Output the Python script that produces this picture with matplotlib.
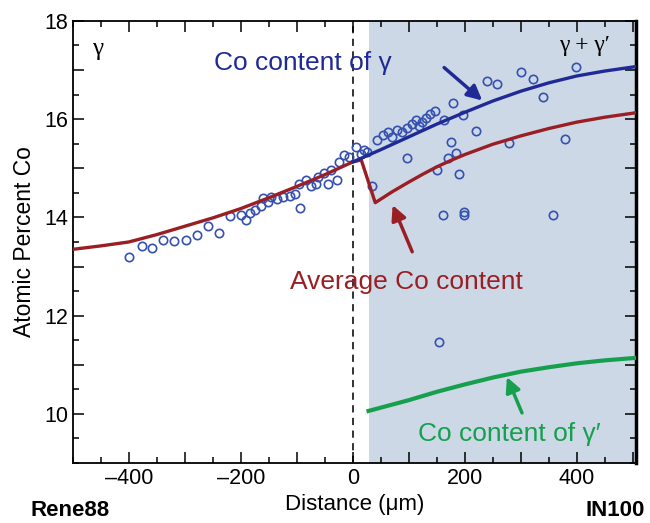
import matplotlib
matplotlib.use("Agg")
import matplotlib.pyplot as plt
import numpy as np
from matplotlib.ticker import MultipleLocator

plt.rcParams['font.family'] = ['Liberation Sans', 'DejaVu Sans']

# ---- data ----
scatter_x = [-399, -377, -358, -339, -319, -298, -279, -259, -239, -220, -199, -190, -184,
             -175, -164, -160, -151, -146, -135, -125, -113, -103, -94, -97, -83, -75, -66,
             -63, -51, -45, -39, -28, -24, -15, -7, 5, 14, 26, 35, 44, 53, 62, 70, 79, 88,
             97, 106, 112, 118, 124, 131, 138, 146, 96, 151, 169, 185, 175, 190, 179, 197,
             220, 240, 257, 163, 300, 321, 339, 399, 279, 378, 161, 199, 199, 358, 153, 20]
scatter_y = [13.20, 13.41, 13.38, 13.53, 13.51, 13.53, 13.64, 13.82, 13.69, 14.02, 14.05, 13.95, 14.09,
             14.15, 14.23, 14.39, 14.32, 14.42, 14.37, 14.41, 14.44, 14.48, 14.19, 14.68, 14.76, 14.64, 14.68,
             14.83, 14.90, 14.69, 14.96, 14.76, 15.13, 15.27, 15.23, 15.44, 15.30, 15.33, 14.63, 15.57, 15.67, 15.74, 15.64, 15.77, 15.74,
             15.81, 15.91, 15.98, 15.87, 15.94, 16.03, 16.11, 16.16, 15.20, 14.96, 15.20, 15.31, 15.53, 14.88, 16.32, 16.08,
             15.75, 16.77, 16.72, 15.98, 16.95, 16.81, 16.45, 17.07, 15.51, 15.59, 14.05, 14.11, 14.05, 14.05, 11.46, 15.37]

avg_x = [-500, -450, -400, -350, -300, -250, -200, -150, -100, -50, 0, 15, 40,
         70, 100, 125, 150, 175, 200, 250, 300, 350, 400, 450, 505]
avg_y = [13.35, 13.42, 13.50, 13.65, 13.82, 13.99, 14.18, 14.40, 14.63, 14.87, 15.13, 15.17, 14.30,
         14.52, 14.72, 14.88, 15.03, 15.16, 15.28, 15.49, 15.66, 15.81, 15.94, 16.04, 16.13]

gam_x = [0, 50, 100, 150, 200, 250, 300, 350, 400, 450, 505]
gam_y = [15.13, 15.38, 15.64, 15.90, 16.14, 16.37, 16.57, 16.74, 16.88, 16.98, 17.07]

gp_x = [28, 100, 150, 200, 250, 300, 350, 400, 450, 505]
gp_y = [10.06, 10.28, 10.45, 10.60, 10.74, 10.86, 10.95, 11.03, 11.09, 11.14]

shade_start = 28
xlim = (-500, 505)
ylim = (9, 18)

RED = '#9a1f24'
BLUE = '#1f2a96'
GREEN = '#16a04e'
SHADE = '#cdd8e6'
MK = '#3550b0'

fig = plt.figure(figsize=(6.5, 5.23), dpi=100)
ax = fig.add_axes([0.112, 0.1147, 0.866, 0.8453])

ax.axvspan(shade_start, xlim[1], color=SHADE, zorder=0, lw=0)
ax.axvline(0, color='#222222', ls=(0, (4, 3)), lw=1.3, zorder=1)

ax.plot(scatter_x, scatter_y, 'o', ms=6, mfc='none', mec=MK, mew=1.2, zorder=2)
ax.plot(avg_x, avg_y, color=RED, lw=2.4, zorder=3, solid_joinstyle='round')
ax.plot(gam_x, gam_y, color=BLUE, lw=2.4, zorder=3, solid_joinstyle='round')
ax.plot(gp_x, gp_y, color=GREEN, lw=3, zorder=3, solid_joinstyle='round')

ax.set_xlim(*xlim)
ax.set_ylim(*ylim)
ax.xaxis.set_minor_locator(MultipleLocator(50))
ax.yaxis.set_minor_locator(MultipleLocator(0.5))
ax.set_xticks([-400, -300, -200, -100, 0, 100, 200, 300, 400, 500])
ax.set_xticklabels(['\u2013400', '', '\u2013200', '', '0', '', '200', '', '400', ''])
ax.set_yticks([10, 11, 12, 13, 14, 15, 16, 17, 18])
ax.set_yticklabels(['10', '', '12', '', '14', '', '16', '', '18'])
ax.tick_params(which='both', direction='in', top=True, right=True, labelsize=15.5, width=1.1)
ax.tick_params(which='major', length=8)
ax.tick_params(which='minor', length=4.5)
for s in ax.spines.values():
    s.set_linewidth(1.3)
ax.spines['right'].set_linewidth(2.5)

ax.set_xlabel('Distance (\u03bcm)', fontsize=16, labelpad=4)
ax.set_ylabel('Atomic Percent Co', fontsize=16.5, labelpad=6)

ax.text(-456, 17.43, '\u03b3', fontsize=18, family='Liberation Serif', ha='center', va='center')
ax.text(413, 17.49, '\u03b3 + \u03b3\u2032', fontsize=17, family='Liberation Serif', ha='center', va='center')
ax.text(-90, 17.15, 'Co content of \u03b3', fontsize=19, color=BLUE, ha='center', va='center')
ax.text(95, 12.68, 'Average Co content', fontsize=19, color=RED, ha='center', va='center')
ax.text(280, 9.6, 'Co content of \u03b3\u2032', fontsize=19, color=GREEN, ha='center', va='center')

ap = dict(arrowstyle='-|>', lw=2.5, mutation_scale=22, shrinkA=0, shrinkB=0)
ax.annotate('', xy=(231, 16.38), xytext=(163, 17.05), arrowprops=dict(ap, color=BLUE))
ax.annotate('', xy=(71, 14.25), xytext=(106, 13.30), arrowprops=dict(ap, color=RED))
ax.annotate('', xy=(275, 10.75), xytext=(302, 10.02), arrowprops=dict(ap, color=GREEN))

fig.text(70 / 650, 1 - 511 / 523, 'Rene88', fontsize=16, fontweight='bold', ha='center', va='center')
fig.text(615 / 650, 1 - 511 / 523, 'IN100', fontsize=16, fontweight='bold', ha='center', va='center')

fig.savefig('out.png', dpi=100)
